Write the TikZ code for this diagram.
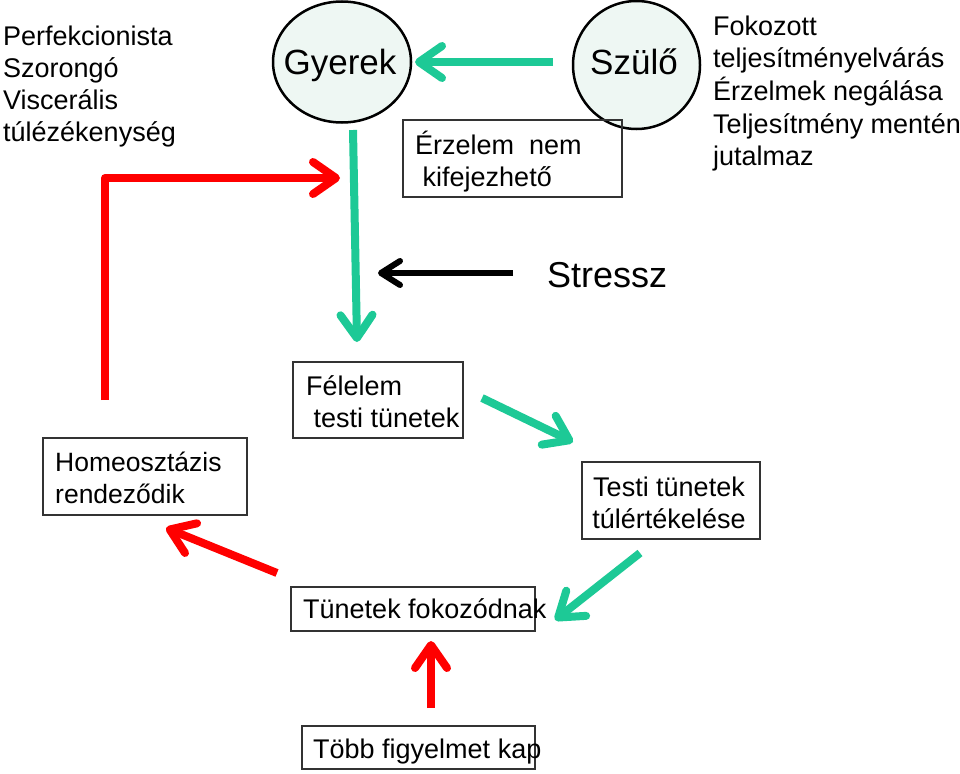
\documentclass[tikz,border=0pt]{standalone}
\usepackage{fontspec}
\setmainfont{Liberation Sans}
\usetikzlibrary{arrows.meta,shapes.geometric}
\definecolor{mygreen}{HTML}{1DC996}
\definecolor{mintfill}{HTML}{EEF7F3}
\definecolor{myred}{HTML}{FF0000}
\newcommand\txtlines[1]{\begin{tabular}{@{}l@{}}#1\end{tabular}}
\newcommand\txtcenter[1]{\begin{tabular}{@{}c@{}}#1\end{tabular}}
\begin{document}
\begin{tikzpicture}[x=1pt,y=-1pt,
  txt/.style={inner sep=0pt, anchor=north west, font=\fontsize{27pt}{32pt}\selectfont},
  boxnode/.style={draw=black!80, line width=1.2pt, inner sep=0pt, rectangle},
  circnode/.style={draw=black, line width=2.5pt, fill=mintfill, ellipse, inner sep=0pt},
  circtxt/.style={inner sep=0pt, font=\fontsize{35pt}{40pt}\selectfont, anchor=base},
  greenarrow/.style={draw=mygreen, line width=8pt,
    -{Straight Barb[round, length=23pt, width=32pt]}},
  redarrow/.style={draw=myred, line width=8pt, line join=round,
    -{Straight Barb[round, length=23pt, width=32pt]}},
  blackarrow/.style={draw=black, line width=6pt,
    -{Straight Barb[round, length=19pt, width=24pt]}}
]
\useasboundingbox (0,0) rectangle (960,773);

% circles
\node[circnode, minimum width=138pt, minimum height=121pt] (gyerek) at (342,62) {};
\node[circtxt] (gyerektxt) at (340,75) {Gyerek};
\node[circnode, minimum width=127pt, minimum height=128pt] (szulo) at (636.5,65) {};
\node[circtxt] (szulotxt) at (634,75) {Szülő};

% side texts
\node[txt, font=\fontsize{27pt}{32pt}\selectfont] (lefttxt) at (3,22.6)
  {\txtlines{Perfekcionista\\Szorongó\\Viscerális\\túlézékenység}};
\node[txt, font=\fontsize{27pt}{32.5pt}\selectfont] (righttxt) at (713,12.25)
  {\txtlines{Fokozott\\teljesítményelvárás\\Érzelmek negálása\\Teljesítmény mentén\\jutalmaz}};

% boxes
\node[boxnode, minimum width=219pt, minimum height=77pt] (erzbox) at (512.5,158.5) {};
\node[txt] (erztxt) at (415,130.6) {\txtlines{Érzelem\ \ nem\\\ kifejezhető}};

\node[boxnode, minimum width=170pt, minimum height=76pt] (felbox) at (378,400) {};
\node[txt] (feltxt) at (306,372.6) {\txtlines{Félelem\\\ testi tünetek}};

\node[boxnode, minimum width=178pt, minimum height=77pt] (testibox) at (671,500.5) {};
\node[txt, anchor=north] (testitxt) at (669,473.6) {\txtcenter{Testi tünetek\\túlértékelése}};

\node[boxnode, minimum width=204pt, minimum height=77pt] (homeobox) at (145,476.5) {};
\node[txt, font=\fontsize{26.5pt}{32pt}\selectfont] (homeotxt) at (55,448.6) {\txtlines{Homeosztázis\\rendeződik}};

\node[boxnode, minimum width=244pt, minimum height=44pt] (tunbox) at (413,609) {};
\node[txt] (tuntxt) at (303,595.6) {\txtlines{Tünetek fokozódnak}};

\node[boxnode, minimum width=233pt, minimum height=43pt] (tobbbox) at (418.5,747.5) {};
\node[txt] (tobbtxt) at (313,735.6) {\txtlines{Több figyelmet kap}};

\node[inner sep=0pt, anchor=base west, font=\fontsize{36pt}{40pt}\selectfont] (stressz) at (547,287) {Stressz};

% connector end points
\coordinate (szS) at (553,62);   \coordinate (gyE) at (415,62);
\coordinate (gyS) at (353,130);  \coordinate (felN) at (357,342);
\coordinate (rS) at (105,400);   \coordinate (rC) at (105,178);  \coordinate (rE) at (340,178);
\coordinate (stS) at (513,273);  \coordinate (stE) at (378,273);
\coordinate (felS) at (482,398); \coordinate (teE) at (573,442);
\coordinate (teS) at (640,553);  \coordinate (tunE) at (555,620);
\coordinate (tunS) at (277,573); \coordinate (hoE) at (166,528);
\coordinate (toS) at (431,708);  \coordinate (tunB) at (431,641);

% connectors
\draw[greenarrow] (szS) -- (gyE);
\draw[greenarrow] (gyS) -- (felN);
\draw[redarrow] (rS) -- (rC) -- (rE);
\draw[blackarrow] (stS) -- (stE);
\draw[greenarrow] (felS) -- (teE);
\draw[greenarrow] (teS) -- (tunE);
\draw[redarrow] (tunS) -- (hoE);
\draw[redarrow] (toS) -- (tunB);
\end{tikzpicture}
\end{document}
